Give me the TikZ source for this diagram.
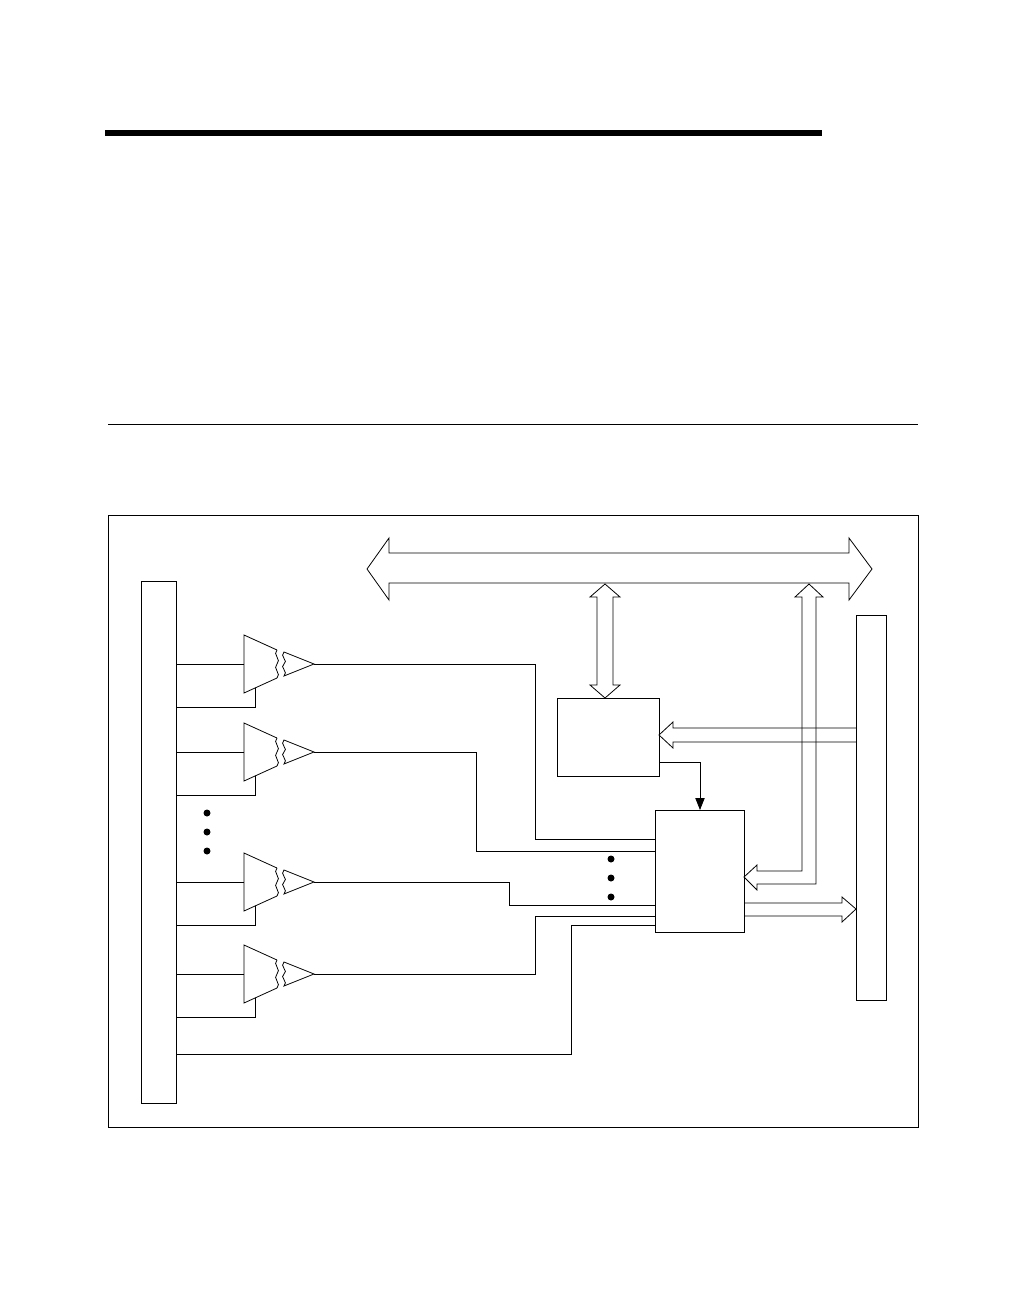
\documentclass[tikz,border=0pt]{standalone}
\usetikzlibrary{arrows.meta}

\begin{document}
\begin{tikzpicture}[
  x=0.75pt, y=-0.75pt,
  line width=0.6pt,
  >={Triangle[length=9pt,width=7pt]},
  wire/.style={draw=black},
  bus/.style={draw=black, line join=miter}
]
\useasboundingbox (0,0) rectangle (1008,1296);

% page rules
\fill (105,130) rectangle (822,136);
\draw[line width=0.5pt] (108,424) -- (918,424);
\draw (108,515) rectangle (918,1127);

% connectors and blocks
\draw (141,581) rectangle (176,1103);
\draw (856,615) rectangle (886,1000);
\draw (557,698) rectangle (659,776);
\draw (655,810) rectangle (744,932);

% top bus
\draw[bus] (367,569) -- (389,538) -- (389,553) -- (849,553) -- (849,538) -- (872,569)
  -- (849,600) -- (849,583) -- (389,583) -- (389,600) -- cycle;

% bus <-> block A
\draw[bus] (605,584) -- (620,597) -- (613,597) -- (613,685) -- (620,685) -- (605,698)
  -- (590,685) -- (597,685) -- (597,597) -- (590,597) -- cycle;

% bus <-> block B
\draw[bus] (809,584) -- (823,597) -- (816,597) -- (816,884) -- (757,884) -- (757,890)
  -- (744,877) -- (757,865) -- (757,871) -- (802,871) -- (802,597) -- (795,597) -- cycle;

% right bar -> block A
\draw[bus] (856,728) -- (673,728) -- (673,722) -- (659,735) -- (673,748) -- (673,742) -- (856,742);

% block B -> right bar
\draw[bus] (744,903) -- (842,903) -- (842,897) -- (856,909) -- (842,922) -- (842,916) -- (744,916);

% block A -> block B
\draw[wire, ->] (659,762) -- (700,762) -- (700,810);

% buffers
\foreach \y in {664,752,882,974} {
  \draw (277,\y-14) -- (244,\y-29) -- (244,\y+29) -- (277,\y+14);
  \draw (277,\y-14) .. controls (272,\y-10) and (282,\y-4) .. (277,\y)
    .. controls (272,\y+4) and (282,\y+10) .. (277,\y+14);
  \draw (284,\y-12) .. controls (279,\y-8) and (289,\y-3) .. (284,\y)
    .. controls (279,\y+3) and (289,\y+8) .. (284,\y+12) -- (314,\y) -- cycle;
  \draw[wire] (176,\y) -- (244,\y);
  \draw[wire] (176,\y+43) -- (255,\y+43) -- (255,\y+24);
}

% buffer outputs to block B
\draw[wire] (314,664) -- (535,664) -- (535,839) -- (655,839);
\draw[wire] (314,752) -- (476,752) -- (476,851) -- (655,851);
\draw[wire] (314,882) -- (509,882) -- (509,905) -- (655,905);
\draw[wire] (314,974) -- (535,974) -- (535,916) -- (655,916);
\draw[wire] (176,1054) -- (571,1054) -- (571,925) -- (655,925);

% dots
\foreach \y in {813,832,851} \fill (207,\y) circle (3.5);
\foreach \y in {859,878,897} \fill (611,\y) circle (3.5);
\end{tikzpicture}
\end{document}
